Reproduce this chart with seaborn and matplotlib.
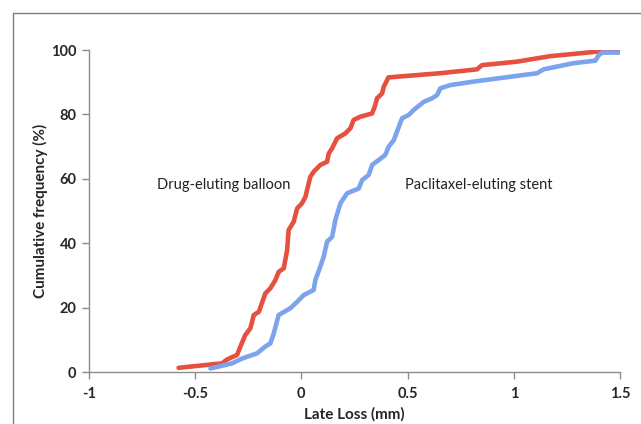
import pandas as pd
import numpy as np
import matplotlib.pyplot as plt
from matplotlib.lines import Line2D
import seaborn as sns

# Cumulative late loss curves
deb_loss = [-0.578, -0.373, -0.35, -0.303, -0.287, -0.264, -0.24, -0.224, -0.20, -0.17,
            -0.146, -0.122, -0.107, -0.083, -0.067, -0.06, -0.036, -0.02, 0.003, 0.019,
            0.042, 0.058, 0.089, 0.121, 0.129, 0.145, 0.168, 0.207, 0.231, 0.246,
            0.278, 0.333, 0.348, 0.356, 0.38, 0.388, 0.41, 0.654, 0.827, 0.85,
            1.016, 1.172, 1.44, 1.49]
deb_freq = [1.3, 2.7, 3.9, 5.3, 7.9, 11.5, 13.6, 17.7, 18.7, 24.4,
            26.0, 28.6, 31.1, 32.2, 37.9, 44.1, 46.7, 50.8, 52.4, 54.4,
            60.6, 62.2, 64.3, 65.3, 67.9, 69.5, 72.6, 74.1, 75.7, 78.3,
            79.3, 80.3, 82.9, 85.0, 86.5, 88.6, 91.5, 92.8, 94.0, 95.3,
            96.4, 98.1, 99.8, 99.8]

pes_loss = [-0.428, -0.326, -0.279, -0.209, -0.17, -0.146, -0.13, -0.107, -0.052, -0.02,
            0.011, 0.058, 0.066, 0.089, 0.105, 0.121, 0.145, 0.16, 0.184, 0.215,
            0.27, 0.286, 0.317, 0.333, 0.395, 0.411, 0.435, 0.474, 0.505, 0.529,
            0.576, 0.615, 0.639, 0.654, 0.70, 0.811, 1.11, 1.14, 1.28, 1.384,
            1.40, 1.416, 1.50]
pes_freq = [1.1, 2.7, 4.2, 5.8, 7.9, 8.9, 12.0, 17.7, 19.8, 21.8,
            23.9, 25.5, 28.6, 32.7, 35.8, 40.5, 42.0, 47.2, 52.4, 55.5,
            57.0, 59.6, 61.2, 64.3, 67.4, 70.0, 72.0, 78.8, 79.8, 81.4,
            83.9, 85.0, 86.0, 88.1, 89.1, 90.2, 92.8, 94.0, 95.9, 96.7,
            98.4, 99.2, 99.2]

x_ticks = [-1, -0.5, 0, 0.5, 1, 1.5]
x_labels = ["-1", "-0.5", "0", "0.5", "1", "1.5"]
y_ticks = [0, 20, 40, 60, 80, 100]

df = pd.concat([
    pd.DataFrame({"loss": deb_loss, "freq": deb_freq, "group": "Drug-eluting balloon"}),
    pd.DataFrame({"loss": pes_loss, "freq": pes_freq, "group": "Paclitaxel-eluting stent"}),
])

sns.set_style("ticks")
plt.rcParams["font.family"] = ["Lato", "DejaVu Sans"]

fig = plt.figure(figsize=(6.41, 4.24), dpi=100)
ax = fig.add_axes([0.1388, 0.1226, 0.8284, 0.7594])

# outer frame: only the top and left edges show in the picture
fx = 12.5 / 641
fy = 1 - 12.5 / 424
fig.add_artist(Line2D([fx, fx, 1.0], [0.0, fy, fy], transform=fig.transFigure,
                      color="#7f7f7f", lw=1.0))

sns.lineplot(data=df, x="loss", y="freq", hue="group", sort=False, estimator=None,
             palette={"Drug-eluting balloon": "#E5503F", "Paclitaxel-eluting stent": "#7BA3EE"},
             linewidth=3.3, legend=False, ax=ax)
for ln in ax.get_lines():
    ln.set_solid_joinstyle("round")
    ln.set_solid_capstyle("round")

ax.set_xlim(-1, 1.5)
ax.set_ylim(0, 100)
ax.set_xticks(x_ticks)
ax.set_xticklabels(x_labels)
ax.set_yticks(y_ticks)
for lab in ax.get_xticklabels() + ax.get_yticklabels():
    lab.set_fontweight("bold")
    lab.set_fontsize(10.5)

ax.set_xlabel("Late Loss (mm)", fontsize=11, fontweight="bold", labelpad=4)
ax.set_ylabel("Cumulative frequency (%)", fontsize=11, fontweight="bold", labelpad=2)

sns.despine(ax=ax)
for s in ["left", "bottom"]:
    ax.spines[s].set_color("#8c8c8c")
    ax.spines[s].set_linewidth(1.0)
ax.tick_params(axis="both", color="#8c8c8c", length=5, width=1.0, pad=4)
ax.tick_params(axis="x", pad=6)

ax.text(-0.678, 58, "Drug-eluting balloon", fontsize=10.5, color="#222222", va="center")
ax.text(0.49, 58, "Paclitaxel-eluting stent", fontsize=10.5, color="#222222", va="center")

fig.savefig("out.png", dpi=100)
